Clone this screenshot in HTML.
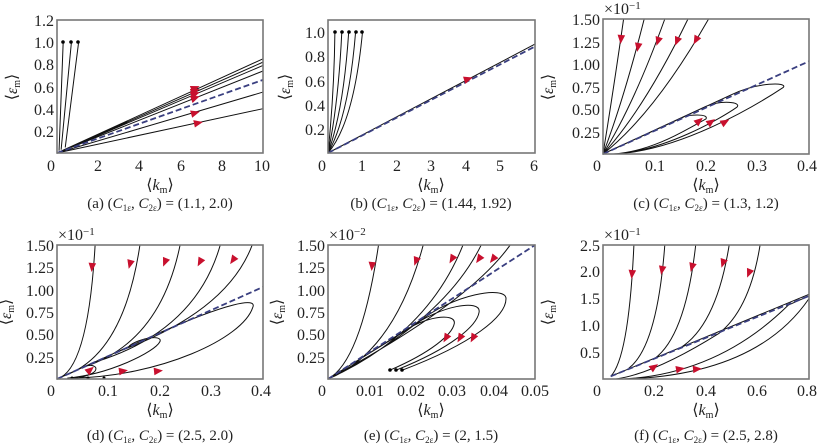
<!DOCTYPE html>
<html><head><meta charset="utf-8"><style>
body{margin:0;background:#fff;}
svg{display:block;}
text{font-family:"Liberation Serif","DejaVu Serif",serif;font-size:16px;fill:#222}
.fr{fill:none;stroke:#777;stroke-width:1.6}
.c{fill:none;stroke:#111;stroke-width:1;vector-effect:non-scaling-stroke}
.d{fill:none;stroke:#3a3f80;stroke-width:1.8;stroke-dasharray:6 3;vector-effect:non-scaling-stroke}
.a{fill:#c8102e}
.e{text-anchor:end}.m{text-anchor:middle}
.cap{font-size:15px}
</style></head><body>
<svg width="823" height="447" viewBox="0 0 823 447">

<!-- Panel a -->
<g transform="translate(57,153) scale(20.6,-110.8)">
<path class="c" d="M0,0L10,0.85M0,0L10,0.82M0,0L10,0.79M0,0L10,0.74M0,0L10,0.55M0,0L10,0.40M0.1,0.02L0.3,1M0.2,0.03L0.7,1M0.4,0.05L1.05,1"/>
<path class="d" d="M0,0L10,0.66"/>
</g>
<circle cx="63" cy="42" r="1.8"/><circle cx="71" cy="42" r="1.8"/><circle cx="78" cy="42" r="1.8"/>
<g transform="translate(195,88) rotate(-22)"><path class="a" d="M5,0L-4,-3.8L-4,3.8Z"/></g>
<g transform="translate(195,91) rotate(-22)"><path class="a" d="M5,0L-4,-3.8L-4,3.8Z"/></g>
<g transform="translate(195,94) rotate(-22)"><path class="a" d="M5,0L-4,-3.8L-4,3.8Z"/></g>
<g transform="translate(195,98) rotate(-20)"><path class="a" d="M5,0L-4,-3.8L-4,3.8Z"/></g>
<g transform="translate(195,113) rotate(-16)"><path class="a" d="M5,0L-4,-3.8L-4,3.8Z"/></g>
<g transform="translate(198,123) rotate(-12)"><path class="a" d="M5,0L-4,-3.8L-4,3.8Z"/></g>
<rect class="fr" x="57" y="20" width="206" height="133"/>
<text class="e" x="54" y="26">1.2</text><text class="e" x="54" y="48">1.0</text><text class="e" x="54" y="70">0.8</text><text class="e" x="54" y="93">0.6</text><text class="e" x="54" y="115">0.4</text><text class="e" x="54" y="137">0.2</text>
<text class="m" x="51" y="171">0</text><text class="m" x="98" y="171">2</text><text class="m" x="139" y="171">4</text><text class="m" x="181" y="171">6</text><text class="m" x="222" y="171">8</text><text class="m" x="262" y="171">10</text>
<text class="m" x="160" y="190">⟨<tspan font-style="italic">k</tspan><tspan font-size="10" dy="3">m</tspan><tspan dy="-3">⟩</tspan></text>
<text class="m" transform="translate(17,87) rotate(-90)">⟨<tspan font-style="italic">ε</tspan><tspan font-size="10" dy="3">m</tspan><tspan dy="-3">⟩</tspan></text>
<text class="m cap" x="160" y="208">(a) (<tspan font-style="italic">C</tspan><tspan font-size="9" dy="3">1ε</tspan><tspan dy="-3">, </tspan><tspan font-style="italic">C</tspan><tspan font-size="9" dy="3">2ε</tspan><tspan dy="-3">) = (1.1, 2.0)</tspan></text>

<!-- Panel b -->
<g transform="translate(328,153) scale(34.5,-121)">
<path class="c" d="M0,0Q0.18,0.5 0.2,1M0,0Q0.3,0.4 0.4,1M0,0Q0.45,0.35 0.6,1M0,0Q0.6,0.3 0.8,1M0,0Q0.75,0.25 1,1M0,0L6,0.9"/>
<path class="d" d="M0,0L6,0.88"/>
</g>
<circle cx="335" cy="32" r="1.8"/><circle cx="342" cy="32" r="1.8"/><circle cx="349" cy="32" r="1.8"/><circle cx="356" cy="32" r="1.8"/><circle cx="362" cy="32" r="1.8"/>
<g transform="translate(468,79) rotate(-18)"><path class="a" d="M5,0L-4,-3.8L-4,3.8Z"/></g>
<rect class="fr" x="328" y="20" width="207" height="133"/>
<text class="e" x="325" y="38">1.0</text><text class="e" x="325" y="62">0.8</text><text class="e" x="325" y="87">0.6</text><text class="e" x="325" y="111">0.4</text><text class="e" x="325" y="135">0.2</text>
<text class="m" x="322" y="171">0</text><text class="m" x="362" y="171">1</text><text class="m" x="397" y="171">2</text><text class="m" x="431" y="171">3</text><text class="m" x="466" y="171">4</text><text class="m" x="500" y="171">5</text><text class="m" x="534" y="171">6</text>
<text class="m" x="431" y="190">⟨<tspan font-style="italic">k</tspan><tspan font-size="10" dy="3">m</tspan><tspan dy="-3">⟩</tspan></text>
<text class="m" transform="translate(290,87) rotate(-90)">⟨<tspan font-style="italic">ε</tspan><tspan font-size="10" dy="3">m</tspan><tspan dy="-3">⟩</tspan></text>
<text class="m cap" x="431" y="208">(b) (<tspan font-style="italic">C</tspan><tspan font-size="9" dy="3">1ε</tspan><tspan dy="-3">, </tspan><tspan font-style="italic">C</tspan><tspan font-size="9" dy="3">2ε</tspan><tspan dy="-3">) = (1.44, 1.92)</tspan></text>

<!-- Panel c -->
<g transform="translate(603,154) scale(515,-90)">
<path class="c" d="M0,0Q0.02,0.7 0.04,1.5M0,0Q0.04,0.6 0.08,1.5M0,0Q0.06,0.55 0.12,1.5M0,0Q0.08,0.5 0.165,1.5M0,0Q0.1,0.45 0.205,1.5
M0.02,0C0.15,0.03 0.3,0.55 0.35,0.74C0.36,0.8 0.3,0.8 0.25,0.66L0,0
M0.02,0C0.12,0.03 0.23,0.4 0.26,0.52C0.27,0.58 0.23,0.6 0.2,0.53L0,0
M0.02,0C0.1,0.03 0.17,0.3 0.2,0.39C0.205,0.44 0.18,0.44 0.16,0.42L0,0"/>
<path class="d" d="M0,0L0.4,1.03"/>
</g>
<g transform="translate(621,39) rotate(95)"><path class="a" d="M5,0L-4,-3.8L-4,3.8Z"/></g>
<g transform="translate(638,47) rotate(100)"><path class="a" d="M5,0L-4,-3.8L-4,3.8Z"/></g>
<g transform="translate(658,41) rotate(108)"><path class="a" d="M5,0L-4,-3.8L-4,3.8Z"/></g>
<g transform="translate(677,41) rotate(112)"><path class="a" d="M5,0L-4,-3.8L-4,3.8Z"/></g>
<g transform="translate(696,40) rotate(118)"><path class="a" d="M5,0L-4,-3.8L-4,3.8Z"/></g>
<g transform="translate(699,121) rotate(-40)"><path class="a" d="M5,0L-4,-3.8L-4,3.8Z"/></g>
<g transform="translate(711,122) rotate(-35)"><path class="a" d="M5,0L-4,-3.8L-4,3.8Z"/></g>
<g transform="translate(725,122) rotate(-30)"><path class="a" d="M5,0L-4,-3.8L-4,3.8Z"/></g>
<rect class="fr" x="603" y="19" width="206" height="135"/>
<text x="604" y="14">×10<tspan font-size="11" dy="-5">−1</tspan></text>
<text class="e" x="600" y="25">1.50</text><text class="e" x="600" y="48">1.25</text><text class="e" x="600" y="70">1.00</text><text class="e" x="600" y="93">0.75</text><text class="e" x="600" y="115">0.50</text><text class="e" x="600" y="138">0.25</text>
<text class="m" x="597" y="171">0</text><text class="m" x="655" y="171">0.1</text><text class="m" x="706" y="171">0.2</text><text class="m" x="757" y="171">0.3</text><text class="m" x="807" y="171">0.4</text>
<text class="m" x="706" y="190">⟨<tspan font-style="italic">k</tspan><tspan font-size="10" dy="3">m</tspan><tspan dy="-3">⟩</tspan></text>
<text class="m" transform="translate(553,87) rotate(-90)">⟨<tspan font-style="italic">ε</tspan><tspan font-size="10" dy="3">m</tspan><tspan dy="-3">⟩</tspan></text>
<text class="m cap" x="706" y="208">(c) (<tspan font-style="italic">C</tspan><tspan font-size="9" dy="3">1ε</tspan><tspan dy="-3">, </tspan><tspan font-style="italic">C</tspan><tspan font-size="9" dy="3">2ε</tspan><tspan dy="-3">) = (1.3, 1.2)</tspan></text>

<!-- Panel d -->
<g transform="translate(57,379) scale(515,-89.3)">
<path class="c" d="M0,0Q0.06,0.1 0.074,1.5M0.02,0.05Q0.13,0.3 0.161,1.5M0.05,0.13Q0.2,0.4 0.239,1.5M0.08,0.2Q0.27,0.55 0.317,1.5M0.12,0.31Q0.33,0.75 0.379,1.5
M0.03,0.01C0.2,0.03 0.36,0.45 0.38,0.8C0.39,0.92 0.33,0.85 0.2,0.52L0,0
M0.02,0.01C0.1,0.05 0.19,0.3 0.2,0.42C0.205,0.5 0.16,0.46 0.14,0.37
M0.04,0.01Q0.08,0.06 0.075,0.13Q0.07,0.16 0.06,0.15"/>
<path class="d" d="M0,0L0.4,1.03"/>
</g>
<circle cx="72" cy="378" r="1.5"/><circle cx="88" cy="378" r="1.5"/><circle cx="104" cy="378" r="1.5"/>
<g transform="translate(92,267) rotate(95)"><path class="a" d="M5,0L-4,-3.8L-4,3.8Z"/></g>
<g transform="translate(130,264) rotate(105)"><path class="a" d="M5,0L-4,-3.8L-4,3.8Z"/></g>
<g transform="translate(165,262) rotate(112)"><path class="a" d="M5,0L-4,-3.8L-4,3.8Z"/></g>
<g transform="translate(200,262) rotate(118)"><path class="a" d="M5,0L-4,-3.8L-4,3.8Z"/></g>
<g transform="translate(233,260) rotate(125)"><path class="a" d="M5,0L-4,-3.8L-4,3.8Z"/></g>
<g transform="translate(90,370) rotate(-40)"><path class="a" d="M5,0L-4,-3.8L-4,3.8Z"/></g>
<g transform="translate(123,371) rotate(-8)"><path class="a" d="M5,0L-4,-3.8L-4,3.8Z"/></g>
<g transform="translate(158,371) rotate(-6)"><path class="a" d="M5,0L-4,-3.8L-4,3.8Z"/></g>
<rect class="fr" x="57" y="245" width="206" height="134"/>
<text x="58" y="240">×10<tspan font-size="11" dy="-5">−1</tspan></text>
<text class="e" x="54" y="251">1.50</text><text class="e" x="54" y="273">1.25</text><text class="e" x="54" y="296">1.00</text><text class="e" x="54" y="318">0.75</text><text class="e" x="54" y="340">0.50</text><text class="e" x="54" y="363">0.25</text>
<text class="m" x="51" y="396">0</text><text class="m" x="108" y="396">0.1</text><text class="m" x="160" y="396">0.2</text><text class="m" x="211" y="396">0.3</text><text class="m" x="261" y="396">0.4</text>
<text class="m" x="160" y="415">⟨<tspan font-style="italic">k</tspan><tspan font-size="10" dy="3">m</tspan><tspan dy="-3">⟩</tspan></text>
<text class="m" transform="translate(11,312) rotate(-90)">⟨<tspan font-style="italic">ε</tspan><tspan font-size="10" dy="3">m</tspan><tspan dy="-3">⟩</tspan></text>
<text class="m cap" x="160" y="440">(d) (<tspan font-style="italic">C</tspan><tspan font-size="9" dy="3">1ε</tspan><tspan dy="-3">, </tspan><tspan font-style="italic">C</tspan><tspan font-size="9" dy="3">2ε</tspan><tspan dy="-3">) = (2.5, 2.0)</tspan></text>

<!-- Panel e -->
<g transform="translate(328,379) scale(4140,-89.3)">
<path class="c" d="M0,0Q0.008,0.2 0.0122,1.5M0,0Q0.016,0.3 0.023,1.5M0,0Q0.024,0.5 0.0326,1.5M0,0Q0.028,0.65 0.037,1.5M0,0Q0.034,0.85 0.044,1.5
M0,0L0.022,0.64C0.03,0.95 0.043,1.05 0.043,0.9C0.043,0.7 0.035,0.4 0.018,0.1
M0,0L0.02,0.58C0.027,0.82 0.037,0.9 0.0365,0.75C0.036,0.6 0.03,0.35 0.0165,0.1
M0,0L0.018,0.52C0.023,0.7 0.031,0.75 0.0305,0.62C0.03,0.5 0.025,0.3 0.015,0.1"/>
<path class="d" d="M0,0L0.05,1.5"/>
</g>
<circle cx="390" cy="370" r="1.8"/><circle cx="396" cy="370" r="1.8"/><circle cx="402" cy="370" r="1.8"/>
<g transform="translate(372,266) rotate(95)"><path class="a" d="M5,0L-4,-3.8L-4,3.8Z"/></g>
<g transform="translate(416,261) rotate(110)"><path class="a" d="M5,0L-4,-3.8L-4,3.8Z"/></g>
<g transform="translate(452,259) rotate(120)"><path class="a" d="M5,0L-4,-3.8L-4,3.8Z"/></g>
<g transform="translate(479,259) rotate(125)"><path class="a" d="M5,0L-4,-3.8L-4,3.8Z"/></g>
<g transform="translate(493,259) rotate(128)"><path class="a" d="M5,0L-4,-3.8L-4,3.8Z"/></g>
<g transform="translate(446,338) rotate(120)"><path class="a" d="M5,0L-4,-3.8L-4,3.8Z"/></g>
<g transform="translate(460,338) rotate(120)"><path class="a" d="M5,0L-4,-3.8L-4,3.8Z"/></g>
<g transform="translate(473,338) rotate(118)"><path class="a" d="M5,0L-4,-3.8L-4,3.8Z"/></g>
<rect class="fr" x="328" y="245" width="207" height="134"/>
<text x="329" y="240">×10<tspan font-size="11" dy="-5">−2</tspan></text>
<text class="e" x="325" y="251">1.50</text><text class="e" x="325" y="273">1.25</text><text class="e" x="325" y="296">1.00</text><text class="e" x="325" y="318">0.75</text><text class="e" x="325" y="340">0.50</text><text class="e" x="325" y="363">0.25</text>
<text class="m" x="322" y="396">0</text><text class="m" x="370" y="396">0.01</text><text class="m" x="411" y="396">0.02</text><text class="m" x="452" y="396">0.03</text><text class="m" x="494" y="396">0.04</text><text class="m" x="535" y="396">0.05</text>
<text class="m" x="431" y="415">⟨<tspan font-style="italic">k</tspan><tspan font-size="10" dy="3">m</tspan><tspan dy="-3">⟩</tspan></text>
<text class="m" transform="translate(282,312) rotate(-90)">⟨<tspan font-style="italic">ε</tspan><tspan font-size="10" dy="3">m</tspan><tspan dy="-3">⟩</tspan></text>
<text class="m cap" x="431" y="440">(e) (<tspan font-style="italic">C</tspan><tspan font-size="9" dy="3">1ε</tspan><tspan dy="-3">, </tspan><tspan font-style="italic">C</tspan><tspan font-size="9" dy="3">2ε</tspan><tspan dy="-3">) = (2, 1.5)</tspan></text>

<!-- Panel f -->
<g transform="translate(603,379) scale(257.5,-53.6)">
<path class="c" d="M0.03,0.05Q0.1,0.4 0.12,2.5M0.1,0.2Q0.21,0.6 0.24,2.5M0.2,0.38Q0.32,0.8 0.36,2.5M0.3,0.58Q0.44,1.0 0.49,2.5M0.45,0.85Q0.57,1.3 0.61,2.5
M0.05,0Q0.2,0.1 0.45,0.85M0.08,0Q0.45,0.1 0.72,1.38L0.8,1.55M0.1,0Q0.6,0.1 0.8,1.5M0.03,0.05L0.8,1.58"/>
<path class="d" d="M0.03,0.05L0.8,1.55"/>
</g>
<g transform="translate(632,274) rotate(95)"><path class="a" d="M5,0L-4,-3.8L-4,3.8Z"/></g>
<g transform="translate(662,270) rotate(100)"><path class="a" d="M5,0L-4,-3.8L-4,3.8Z"/></g>
<g transform="translate(692,267) rotate(105)"><path class="a" d="M5,0L-4,-3.8L-4,3.8Z"/></g>
<g transform="translate(723,263) rotate(108)"><path class="a" d="M5,0L-4,-3.8L-4,3.8Z"/></g>
<g transform="translate(749,273) rotate(112)"><path class="a" d="M5,0L-4,-3.8L-4,3.8Z"/></g>
<g transform="translate(654,367) rotate(-35)"><path class="a" d="M5,0L-4,-3.8L-4,3.8Z"/></g>
<g transform="translate(680,369) rotate(-10)"><path class="a" d="M5,0L-4,-3.8L-4,3.8Z"/></g>
<g transform="translate(697,369) rotate(-5)"><path class="a" d="M5,0L-4,-3.8L-4,3.8Z"/></g>
<rect class="fr" x="603" y="245" width="206" height="134"/>
<text x="604" y="240">×10<tspan font-size="11" dy="-5">−1</tspan></text>
<text class="e" x="600" y="251">2.5</text><text class="e" x="600" y="277">2.0</text><text class="e" x="600" y="304">1.5</text><text class="e" x="600" y="331">1.0</text><text class="e" x="600" y="358">0.5</text>
<text class="m" x="597" y="396">0</text><text class="m" x="654" y="396">0.2</text><text class="m" x="706" y="396">0.4</text><text class="m" x="757" y="396">0.6</text><text class="m" x="807" y="396">0.8</text>
<text class="m" x="706" y="415">⟨<tspan font-style="italic">k</tspan><tspan font-size="10" dy="3">m</tspan><tspan dy="-3">⟩</tspan></text>
<text class="m" transform="translate(553,312) rotate(-90)">⟨<tspan font-style="italic">ε</tspan><tspan font-size="10" dy="3">m</tspan><tspan dy="-3">⟩</tspan></text>
<text class="m cap" x="706" y="440">(f) (<tspan font-style="italic">C</tspan><tspan font-size="9" dy="3">1ε</tspan><tspan dy="-3">, </tspan><tspan font-style="italic">C</tspan><tspan font-size="9" dy="3">2ε</tspan><tspan dy="-3">) = (2.5, 2.8)</tspan></text>
</svg>
</body></html>
